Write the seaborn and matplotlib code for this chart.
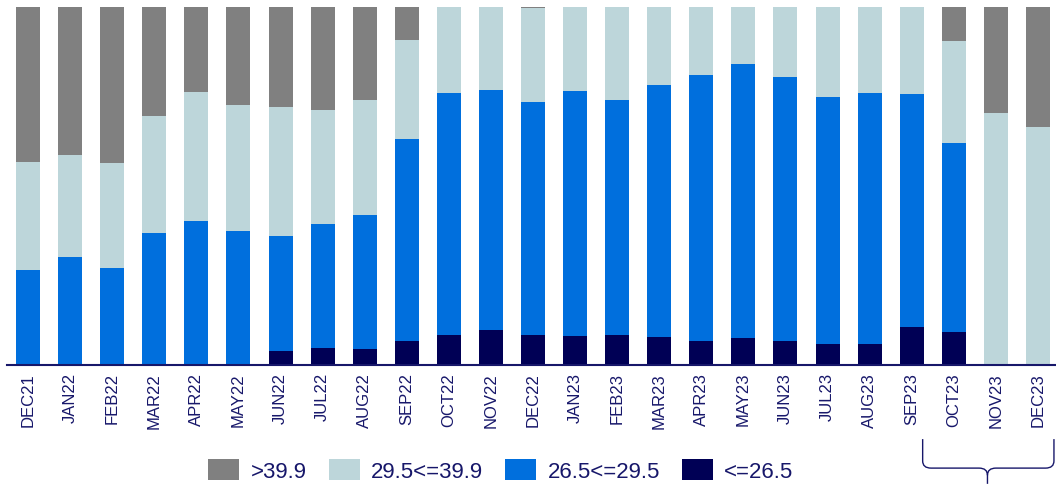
import matplotlib
matplotlib.use("Agg")
import matplotlib.pyplot as plt
import matplotlib.transforms as mtransforms
from matplotlib.patches import Patch, PathPatch
from matplotlib.path import Path
import seaborn as sns
import pandas as pd

# data (share of total, %)
months = ["DEC21", "JAN22", "FEB22", "MAR22", "APR22", "MAY22", "JUN22", "JUL22",
          "AUG22", "SEP22", "OCT22", "NOV22", "DEC22", "JAN23", "FEB23", "MAR23",
          "APR23", "MAY23", "JUN23", "JUL23", "AUG23", "SEP23", "OCT23", "NOV23", "DEC23"]
le_265 = [0, 0, 0, 0, 0, 0.3, 4.0, 4.7, 4.5, 6.7, 8.5, 9.7, 8.5, 8.1, 8.5, 7.9,
          6.8, 7.6, 6.8, 5.9, 5.9, 10.6, 9.2, 0, 0]
b265_295 = [26.5, 30.2, 27.1, 36.9, 40.2, 37.2, 32.0, 34.6, 37.4, 56.4, 67.5, 67.2,
            65.0, 68.5, 65.6, 70.3, 74.2, 76.6, 73.7, 69.1, 70.1, 65.2, 52.8, 0, 0]
b295_399 = [30.2, 28.5, 29.3, 32.7, 36.0, 35.2, 36.0, 31.8, 32.1, 27.7, 24.0, 23.1,
            26.2, 23.4, 26.0, 21.8, 19.0, 15.7, 19.6, 25.1, 24.0, 24.2, 28.4, 70.3, 66.5]
gt_399 = [43.3, 41.3, 43.6, 30.4, 23.7, 27.4, 27.9, 28.8, 26.0, 9.2, 0, 0, 0.3, 0, 0,
          0, 0, 0, 0, 0, 0, 0, 9.6, 29.7, 33.5]

labels = [">39.9", "29.5<=39.9", "26.5<=29.5", "<=26.5"]
colors = ["#808080", "#bdd6da", "#006fdd", "#000055"]
navy = "#17176a"

df = pd.DataFrame({"month": months, "a": le_265, "b": b265_295,
                   "c": b295_399, "d": gt_399})
# cumulative tops, so the stack can be layered from the tallest down
df["top_a"] = df["a"]
df["top_b"] = df["top_a"] + df["b"]
df["top_c"] = df["top_b"] + df["c"]
df["top_d"] = df["top_c"] + df["d"]

sns.set_style("white")
plt.rcParams["font.family"] = ["Liberation Sans", "DejaVu Sans"]

fig = plt.figure(figsize=(10.56, 4.85), dpi=100)
ax = fig.add_axes([7 / 1056, 119 / 485, 1052 / 1056, 358 / 485])

for col, color in zip(["top_d", "top_c", "top_b", "top_a"], colors):
    sns.barplot(data=df, x="month", y=col, order=months, color=color,
                saturation=1, width=0.57, linewidth=0, ax=ax)

ax.set_xlim(-0.5, 24.5)
ax.set_ylim(0, 100)
ax.set_xlabel("")
ax.set_ylabel("")
ax.set_yticks([])
ax.tick_params(axis="x", length=0, pad=5, labelsize=12, labelcolor=navy,
               labelrotation=90)
for s in ["top", "right", "left"]:
    ax.spines[s].set_visible(False)
ax.spines["bottom"].set_color(navy)
ax.spines["bottom"].set_linewidth(1.5)

handles = [Patch(facecolor=c, edgecolor="none", label=l) for c, l in zip(colors, labels)]
fig.legend(handles=handles, loc="center", bbox_to_anchor=(0.4744, 0.028), ncol=4,
           frameon=False, fontsize=16, labelcolor=navy, handlelength=1.4,
           handleheight=1.05, handletextpad=0.5, columnspacing=1.0)

# curly bracket under OCT23-DEC23
trans = mtransforms.blended_transform_factory(ax.transData, ax.transAxes)
x0, x1, xm = 21.26, 24.38, 22.8
y0, y1, y2 = -0.207, -0.288, -0.332
dx, dy = 0.2, 0.02
verts = [(x0, y0), (x0, y1 + dy), (x0, y1), (x0 + dx, y1),
         (xm - dx, y1), (xm, y1), (xm, y1 - dy), (xm, y2),
         (xm, y1 - dy), (xm, y1), (xm + dx, y1),
         (x1 - dx, y1), (x1, y1), (x1, y1 + dy), (x1, y0)]
codes = [Path.MOVETO, Path.LINETO, Path.CURVE3, Path.CURVE3,
         Path.LINETO, Path.CURVE3, Path.CURVE3, Path.LINETO,
         Path.MOVETO, Path.CURVE3, Path.CURVE3,
         Path.LINETO, Path.CURVE3, Path.CURVE3, Path.LINETO]
ax.add_patch(PathPatch(Path(verts, codes), transform=trans, facecolor="none",
                       edgecolor=navy, linewidth=1, clip_on=False))

fig.savefig("out.png", dpi=100)
